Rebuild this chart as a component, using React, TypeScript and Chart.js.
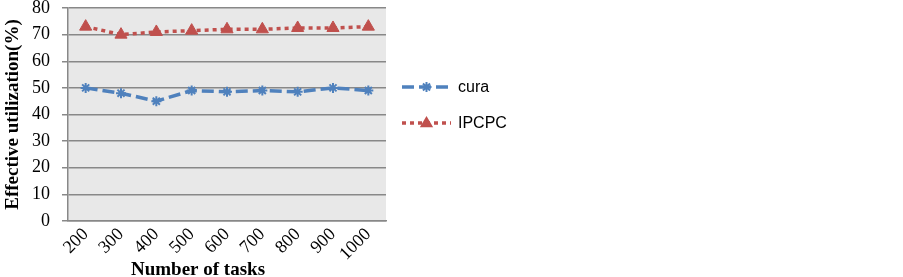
import React, { useEffect, useRef } from "react";
import { Chart, registerables } from "chart.js";

Chart.register(...registerables);

const categories = ["200", "300", "400", "500", "600", "700", "800", "900", "1000"];
const curaValues = [50, 48, 45, 49, 48.5, 49, 48.5, 50, 49];
const ipcpcValues = [73, 70, 71, 71.5, 72, 72, 72.5, 72.5, 73];
const yTicks = [0, 10, 20, 30, 40, 50, 60, 70, 80];
const xTitle = "Number of tasks";
const yTitle = "Effective utilization(%)";

const BLUE = "#4F81BD";
const RED = "#C0504D";

const bgPlugin = {
  id: "plotBg",
  beforeDraw(chart: any) {
    const { ctx, chartArea } = chart;
    ctx.save();
    ctx.fillStyle = "#e8e8e8";
    ctx.fillRect(chartArea.left, chartArea.top, chartArea.right - chartArea.left, chartArea.bottom - chartArea.top);
    ctx.restore();
  },
};

const xTitlePlugin = {
  id: "xTitle",
  afterDraw(chart: any) {
    const { ctx } = chart;
    ctx.save();
    ctx.fillStyle = "#000";
    ctx.font = "bold 19px 'Liberation Serif', serif";
    ctx.textAlign = "center";
    ctx.textBaseline = "alphabetic";
    ctx.fillText(xTitle, 198, 275);
    ctx.restore();
  },
};

const legendPlugin = {
  id: "customLegend",
  afterDraw(chart: any) {
    const { ctx } = chart;
    const items = chart.data.datasets;
    const x0 = 402;
    const x1 = 451;
    const ys = [87, 123];
    items.forEach((ds: any, i: number) => {
      const y = ys[i];
      ctx.save();
      ctx.strokeStyle = ds.borderColor;
      ctx.lineWidth = ds.borderWidth;
      ctx.setLineDash(ds.borderDash);
      ctx.beginPath();
      ctx.moveTo(x0, y);
      ctx.lineTo(x1, y);
      ctx.stroke();
      ctx.setLineDash([]);
      ctx.restore();
      ctx.save();
      const cx = (x0 + x1) / 2;
      ctx.fillStyle = ds.pointBackgroundColor;
      ctx.strokeStyle = ds.pointBorderColor;
      ctx.lineWidth = ds.pointBorderWidth;
      const r = ds.pointRadius;
      if (ds.pointStyle === "triangle") {
        ctx.beginPath();
        ctx.moveTo(cx, y - r);
        ctx.lineTo(cx + r * 0.95, y + r * 0.6);
        ctx.lineTo(cx - r * 0.95, y + r * 0.6);
        ctx.closePath();
        ctx.fill();
      } else {
        ctx.beginPath();
        ctx.moveTo(cx - r, y);
        ctx.lineTo(cx + r, y);
        ctx.moveTo(cx, y - r);
        ctx.lineTo(cx, y + r);
        const d = r * 0.707;
        ctx.moveTo(cx - d, y - d);
        ctx.lineTo(cx + d, y + d);
        ctx.moveTo(cx - d, y + d);
        ctx.lineTo(cx + d, y - d);
        ctx.stroke();
      }
      ctx.restore();
      ctx.save();
      ctx.fillStyle = "#000";
      ctx.font = "16px 'Liberation Sans', sans-serif";
      ctx.textBaseline = "middle";
      ctx.textAlign = "left";
      ctx.fillText(ds.label, 458, y + 1);
      ctx.restore();
    });
  },
};

export default function App() {
  const ref = useRef<HTMLCanvasElement | null>(null);
  useEffect(() => {
    document.body.style.margin = "0";
    const canvas = ref.current!;
    const chart = new Chart(canvas, {
      type: "line",
      data: {
        labels: categories,
        datasets: [
          {
            label: "cura",
            data: curaValues,
            borderColor: BLUE,
            backgroundColor: BLUE,
            borderWidth: 3.5,
            borderDash: [12, 5],
            pointStyle: "star",
            pointRadius: 5,
            pointBorderWidth: 2,
            pointBorderColor: BLUE,
            pointBackgroundColor: BLUE,
            tension: 0,
          } as any,
          {
            label: "IPCPC",
            data: ipcpcValues,
            borderColor: RED,
            backgroundColor: RED,
            borderWidth: 3.5,
            borderDash: [4, 4],
            pointStyle: "triangle",
            pointRadius: 7,
            pointBorderWidth: 1,
            pointBorderColor: RED,
            pointBackgroundColor: RED,
            tension: 0,
          } as any,
        ],
      },
      options: {
        animation: false,
        responsive: false,
        maintainAspectRatio: false,
        layout: { padding: { left: 0, right: 517, top: 6, bottom: 0 } },
        plugins: { legend: { display: false }, tooltip: { enabled: false } },
        scales: {
          x: {
            offset: true,
            grid: { display: false, drawTicks: false },
            border: { display: true, color: "#888", width: 1.5 },
            ticks: {
              color: "#000",
              font: { family: "'Liberation Serif', serif", size: 18 },
              minRotation: 45,
              maxRotation: 45,
              padding: 3,
              autoSkip: false,
            },
            afterFit(scale: any) {
              scale.height = 56;
              scale.paddingLeft = 0;
              scale.paddingRight = 0;
            },
          },
          y: {
            min: 0,
            max: 80,
            afterBuildTicks(scale: any) {
              scale.ticks = yTicks.map((v) => ({ value: v }));
            },
            grid: { color: "#888", lineWidth: 1.5, tickLength: 6, drawTicks: true },
            border: { display: true, color: "#888", width: 1.5 },
            ticks: {
              color: "#000",
              font: { family: "'Liberation Serif', serif", size: 18 },
              padding: 12,
            },
            title: {
              display: true,
              text: yTitle,
              color: "#000",
              font: { family: "'Liberation Serif', serif", size: 19, weight: "bold" },
              padding: { top: 2, bottom: 0 },
            },
            afterFit(scale: any) {
              scale.width = 68;
              scale.paddingTop = 0;
              scale.paddingBottom = 0;
            },
          },
        },
      } as any,
      plugins: [bgPlugin, legendPlugin, xTitlePlugin],
    });
    return () => chart.destroy();
  }, []);
  return (
    <div style={{ position: "absolute", left: 0, top: 0, width: 903, height: 277 }}>
      <canvas ref={ref} width={903} height={277} style={{ width: 903, height: 277 }} />
    </div>
  );
}
